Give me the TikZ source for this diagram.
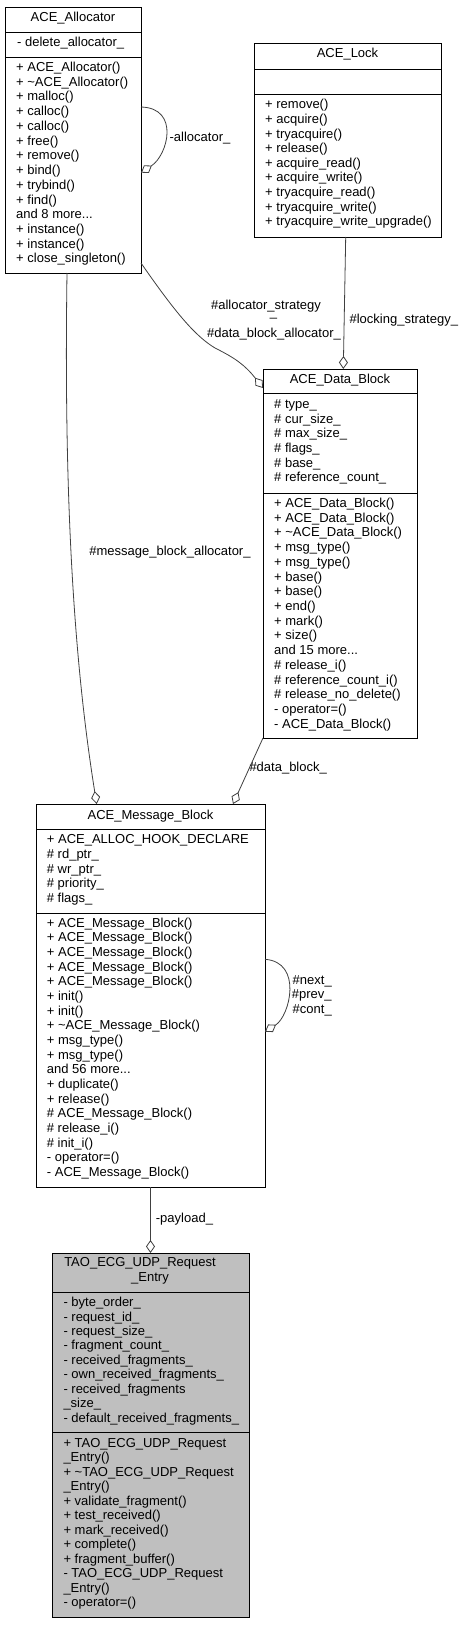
\documentclass[tikz,border=0pt]{standalone}
\usepackage{fontspec}
\setmainfont{Liberation Sans}
\usetikzlibrary{arrows.meta}
\definecolor{edgec}{HTML}{404040}
\definecolor{mainfill}{HTML}{BFBFBF}
\tikzset{
  comp/.style={draw=black, line width=0.9pt, inner sep=0pt, outer sep=0pt},
  txt/.style={anchor=west, inner sep=0pt, font=\fontsize{13}{15}\selectfont, text height=9.75pt, text depth=3.25pt},
  ttl/.style={txt, anchor=center},
  agg/.style={draw=edgec, line width=0.8pt, -{Diamond[fill=white, length=13pt, width=9pt, line width=0.8pt]}},
}
\newcommand\classlines[5]{\foreach \lbl [count=\i] in {#5} {\node[txt] (#1-\i) at (#2,{#3+(\i-1)*#4}) {\lbl};}}
\begin{document}
\begin{tikzpicture}[x=1pt,y=-1pt]
\useasboundingbox (0,0) rectangle (464,1629);
\fill[white] (0,0) rectangle (464,1629);

% ACE_Allocator
\node[comp, minimum width=136pt, minimum height=25pt] (alloc-t) at (73,19.5) {};
\node[comp, minimum width=136pt, minimum height=25pt] (alloc-a) at (73,44.5) {};
\node[comp, minimum width=136pt, minimum height=216pt] (alloc-m) at (73,165) {};
% ACE_Lock
\node[comp, minimum width=187pt, minimum height=26pt] (lock-t) at (347.5,56) {};
\node[comp, minimum width=187pt, minimum height=25pt] (lock-a) at (347.5,81.5) {};
\node[comp, minimum width=187pt, minimum height=143pt] (lock-m) at (347.5,165.5) {};
% ACE_Data_Block
\node[comp, minimum width=154pt, minimum height=24pt] (db-t) at (340,381) {};
\node[comp, minimum width=154pt, minimum height=100pt] (db-a) at (340,443) {};
\node[comp, minimum width=154pt, minimum height=245pt] (db-m) at (340,615.5) {};
% ACE_Message_Block
\node[comp, minimum width=229pt, minimum height=25pt] (msg-t) at (150.5,816.5) {};
\node[comp, minimum width=229pt, minimum height=84pt] (msg-a) at (150.5,871) {};
\node[comp, minimum width=229pt, minimum height=274pt] (msg-m) at (150.5,1050) {};
% TAO_ECG_UDP_Request_Entry
\node[comp, fill=mainfill, minimum width=197pt, minimum height=39pt] (tao-t) at (150.5,1272.5) {};
\node[comp, fill=mainfill, minimum width=197pt, minimum height=140pt] (tao-a) at (150.5,1362) {};
\node[comp, fill=mainfill, minimum width=197pt, minimum height=185pt] (tao-m) at (150.5,1524.5) {};

% connectors
\draw[agg] ([yshift=-50pt]alloc-m.north east) .. controls (180,108) and (168,155) .. ([yshift=-115.7pt]alloc-m.north east);
\draw[agg] ([xshift=-1.8pt]lock-m.south) -- ([xshift=3.3pt]db-t.north);
\draw[agg] ([yshift=10pt]alloc-m.south east) .. controls (175,312) and (195,336) .. (215,348) .. controls (235,358) and (245,365) .. ([yshift=-7pt]db-t.west);
\draw[agg] ([xshift=-6pt]alloc-m.south) .. controls (64,480) and (72,650) .. ([xshift=-53.8pt]msg-t.north);
\draw[agg] (db-m.south west) -- ([xshift=82.5pt]msg-t.north);
\draw[agg] ([yshift=-46.3pt]msg-m.north east) .. controls (303,962) and (290,1016) .. ([yshift=-118.7pt]msg-m.north east);
\draw[agg] (msg-m.south) -- (tao-t.north);

% connector labels
\node[ttl] (l-alloc) at (200,138.3) {-allocator\_};
\node[ttl] (l-as1) at (266,306) {\#allocator\_strategy};
\node[txt, anchor=base, text height=0pt, text depth=0pt] (l-as2) at (273.5,316.2) {\_};
\node[ttl] (l-as3) at (274,334.3) {\#data\_block\_allocator\_};
\node[ttl] (l-lock) at (403.8,320.7) {\#locking\_strategy\_};
\node[ttl] (l-mba) at (170,552.3) {\#message\_block\_allocator\_};
\node[txt] (l-db) at (249.3,768.3) {\#data\_block\_};
\node[txt] (l-next) at (292.5,981.7) {\#next\_};
\node[txt] (l-prev) at (291.7,995) {\#prev\_};
\node[txt] (l-cont) at (292.5,1010) {\#cont\_};
\node[txt] (l-pay) at (155.7,1219.3) {-payload\_};

% titles
\node[ttl] (alloc-tt) at (73,18.3) {ACE\_Allocator};
\node[ttl] (lock-tt) at (347.5,54) {ACE\_Lock};
\node[ttl] (db-tt) at (340,380) {ACE\_Data\_Block};
\node[ttl] (msg-tt) at (150.5,816) {ACE\_Message\_Block};
\node[ttl] (tao-tt1) at (140,1263.3) {TAO\_ECG\_UDP\_Request};
\node[ttl] (tao-tt2) at (150,1278.3) {\_Entry};

% members
\classlines{alloc-al}{17}{43}{0}{- delete\_allocator\_}
\classlines{alloc-ml}{16}{68.3}{14.72}{+ ACE\_Allocator(),+ \textasciitilde ACE\_Allocator(),+ malloc(),+ calloc(),+ calloc(),+ free(),+ remove(),+ bind(),+ trybind(),+ find(),and 8 more.{}.{}.,+ instance(),+ instance(),+ close\_singleton()}
\classlines{lock-ml}{265}{105.7}{14.58}{+ remove(),+ acquire(),+ tryacquire(),+ release(),+ acquire\_read(),+ acquire\_write(),+ tryacquire\_read(),+ tryacquire\_write(),+ tryacquire\_write\_upgrade()}
\classlines{db-al}{274}{405.7}{14.52}{\# type\_,\# cur\_size\_,\# max\_size\_,\# flags\_,\# base\_,\# reference\_count\_}
\classlines{db-ml}{274}{504.3}{14.71}{+ ACE\_Data\_Block(),+ ACE\_Data\_Block(),+ \textasciitilde ACE\_Data\_Block(),+ msg\_type(),+ msg\_type(),+ base(),+ base(),+ end(),+ mark(),+ size(),and 15 more.{}.{}.,\# release\_i(),\# reference\_count\_i(),\# release\_no\_delete(),- operator=(),- ACE\_Data\_Block()}
\classlines{msg-al}{46.7}{840}{14.9}{+ ACE\_ALLOC\_HOOK\_DECLARE,\# rd\_ptr\_,\# wr\_ptr\_,\# priority\_,\# flags\_}
\classlines{msg-ml}{46.7}{924}{14.67}{+ ACE\_Message\_Block(),+ ACE\_Message\_Block(),+ ACE\_Message\_Block(),+ ACE\_Message\_Block(),+ ACE\_Message\_Block(),+ init(),+ init(),+ \textasciitilde ACE\_Message\_Block(),+ msg\_type(),+ msg\_type(),and 56 more.{}.{}.,+ duplicate(),+ release(),\# ACE\_Message\_Block(),\# release\_i(),\# init\_i(),- operator=(),- ACE\_Message\_Block()}
\classlines{tao-al}{63.3}{1303.3}{14.46}{- byte\_order\_,- request\_id\_,- request\_size\_,- fragment\_count\_,- received\_fragments\_,- own\_received\_fragments\_,- received\_fragments,\_size\_,- default\_received\_fragments\_}
\classlines{tao-ml}{63.3}{1444}{14.48}{+ TAO\_ECG\_UDP\_Request,\_Entry(),+ \textasciitilde TAO\_ECG\_UDP\_Request,\_Entry(),+ validate\_fragment(),+ test\_received(),+ mark\_received(),+ complete(),+ fragment\_buffer(),- TAO\_ECG\_UDP\_Request,\_Entry(),- operator=()}
\end{tikzpicture}
\end{document}
